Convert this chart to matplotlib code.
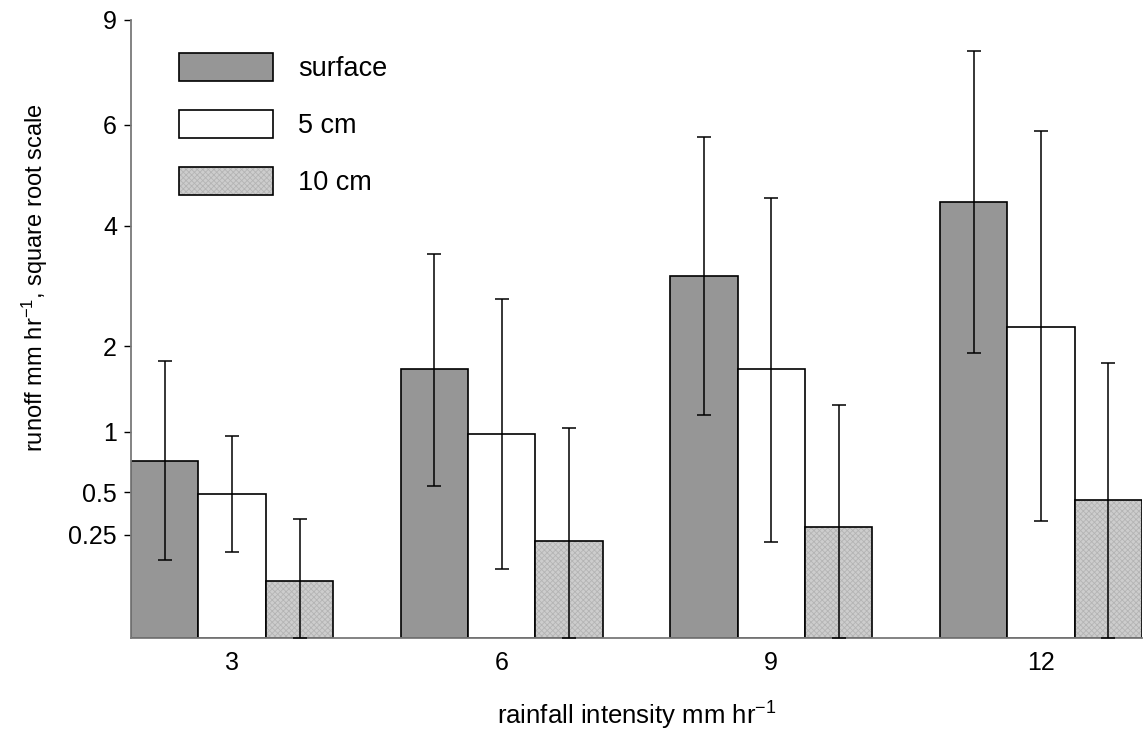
import numpy as np
import matplotlib
matplotlib.use("Agg")
import matplotlib.pyplot as plt

plt.rcParams['font.family'] = ['Liberation Sans', 'DejaVu Sans']
plt.rcParams['mathtext.fontset'] = 'custom'
plt.rcParams['mathtext.rm'] = 'Liberation Sans'
plt.rcParams['mathtext.it'] = 'Liberation Sans:italic'
plt.rcParams['mathtext.bf'] = 'Liberation Sans:bold'
plt.rcParams['hatch.linewidth'] = 0.6

# rainfall intensity classes (mm/hr)
intensity = ["3", "6", "9", "12"]
series = ["surface", "5 cm", "10 cm"]

# mean runoff (mm/hr) for each depth
surface = [0.74, 1.70, 3.08, 4.48]
cm5 = [0.49, 0.98, 1.70, 2.28]
cm10 = [0.077, 0.22, 0.29, 0.45]

# error bar ends (lower, upper)
surface_lo = [0.143, 0.546, 1.17, 1.91]
surface_hi = [1.80, 3.47, 5.90, 8.11]
cm5_lo = [0.174, 0.113, 0.218, 0.32]
cm5_hi = [0.96, 2.70, 4.56, 6.04]
cm10_lo = [0.0, 0.0, 0.0, 0.0]
cm10_hi = [0.333, 1.04, 1.28, 1.78]

# the "6" tick sits slightly above sqrt(6) in the original
ytick_vals = [0.25, 0.5, 1, 2, 4, 6.2, 9]
ytick_labels = ["0.25", "0.5", "1", "2", "4", "6", "9"]

fig = plt.figure(figsize=(11.43, 7.36), dpi=100)
ax = fig.add_axes([131/1143, 98/736, 1011/1143, 618.5/736])

ax.set_yscale('function', functions=(lambda v: np.sqrt(np.clip(v, 0, None)),
                                     lambda v: np.asarray(v)**2))

x = np.arange(len(intensity))
w = 0.25
means = [surface, cm5, cm10]
lows = [surface_lo, cm5_lo, cm10_lo]
highs = [surface_hi, cm5_hi, cm10_hi]
faces = ['#969696', 'white', '#cdcdcd']
hatches = [None, None, 'xxxxxx']

for i in range(3):
    m = np.array(means[i])
    lo = np.array(lows[i])
    hi = np.array(highs[i])
    xs = x + (i - 1)*w
    b = ax.bar(xs, m, width=w, color=faces[i], edgecolor='black',
               linewidth=1.2, label=series[i], zorder=2)
    if hatches[i]:
        for p in b:
            p.set_hatch(hatches[i])
            p._hatch_color = matplotlib.colors.to_rgba('#b4b4b4')
    ax.errorbar(xs, m, yerr=[m - lo, hi - m], fmt='none', ecolor='black',
                elinewidth=1.1, capsize=5, capthick=1.1, zorder=3)

ax.set_xlim(-0.375, 3.375)
ax.set_ylim(0, 9)
ax.set_xticks(x)
ax.set_xticklabels(intensity, fontsize=18)
ax.set_yticks(ytick_vals)
ax.set_yticklabels(ytick_labels, fontsize=18)
ax.yaxis.set_minor_locator(matplotlib.ticker.NullLocator())
ax.tick_params(axis='x', length=0, pad=9)
ax.tick_params(axis='y', length=5, width=1, pad=5)

for s in ['top', 'right']:
    ax.spines[s].set_visible(False)
for s in ['left', 'bottom']:
    ax.spines[s].set_color('#7a7a7a')
    ax.spines[s].set_linewidth(1.3)

ax.set_xlabel('rainfall intensity mm hr$^{-1}$', fontsize=18.5, labelpad=18)
ax.set_ylabel('runoff mm hr$^{-1}$, square root scale', fontsize=17)
ax.yaxis.set_label_coords(-0.08, 0.582)

ax.legend(loc='upper left', bbox_to_anchor=(179/1143, 1 - 53/736),
          bbox_transform=fig.transFigure, frameon=False, fontsize=19.5,
          handlelength=3.47, handleheight=1.2, handletextpad=0.92,
          labelspacing=1.04, borderpad=0, borderaxespad=0)

plt.savefig("out.png", dpi=100)
